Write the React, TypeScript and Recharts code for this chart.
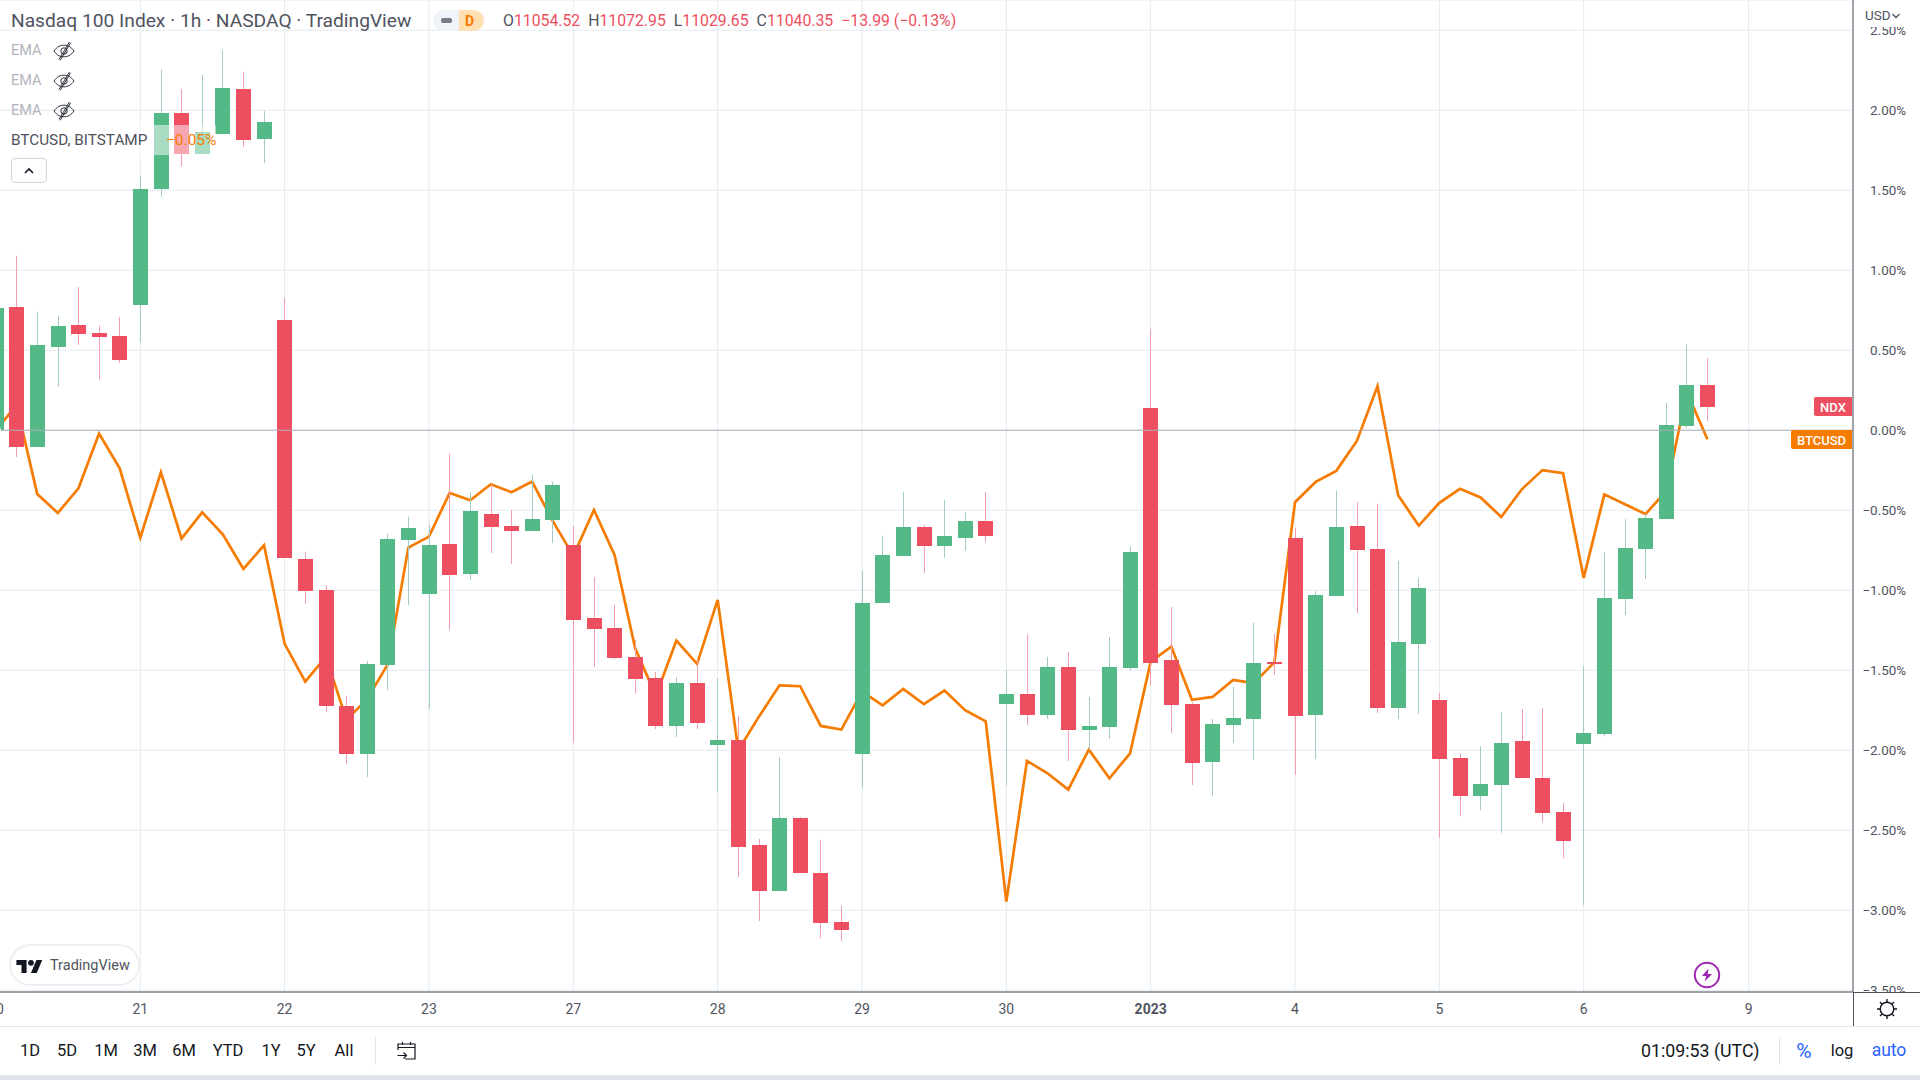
import React from 'react';
import { ComposedChart, Bar, Line, XAxis, YAxis, CartesianGrid, ReferenceLine } from 'recharts';

const firstBar = -7;
const opens = [0.0,.771,-.104,.521,.658,.608,.59, .783,1.508,1.983,1.727,1.852,2.133,1.82, .69,-.804,-.998,-1.723,-2.023,-1.467,-.685, -1.023,-.71,-.898,-.523,-.598,-.629,-.56, -.717,-1.173,-1.235,-1.417,-1.548,-1.848,-1.579, -1.967,-1.935,-2.592,-2.879,-2.423,-2.767,-3.073, -2.023,-1.079,-.785,-.604,-.723,-.673,-.567, -1.71,-1.648,-1.779,-1.479,-1.873,-1.854,-1.485, .14,-1.435,-1.71,-2.073,-1.842,-1.804,-1.448, -.673,-1.779,-1.035,-.598,-.742,-1.735,-1.335, -1.686,-2.049,-2.287,-2.218,-1.943,-2.174,-2.387, -1.961,-1.899,-1.055,-.743,-.556,.027,.281];
const closes = [.765,-.104,.533,.652,.602,.583,.44, 1.508,1.983,1.727,1.865,2.14,1.815,1.927, -.798,-1.004,-1.723,-2.023,-1.46,-.679,-.61, -.717,-.904,-.504,-.604,-.629,-.554,-.342, -1.185,-1.242,-1.423,-1.554,-1.848,-1.579,-1.829, -1.935,-2.604,-2.879,-2.423,-2.767,-3.079,-3.123, -1.079,-.779,-.604,-.723,-.66,-.567,-.66, -1.648,-1.779,-1.479,-1.873,-1.848,-1.479,-.76, -1.454,-1.717,-2.079,-1.835,-1.798,-1.454,-1.46, -1.785,-1.029,-.604,-.748,-1.735,-1.323,-.985, -2.056,-2.287,-2.211,-1.954,-2.174,-2.394,-2.567, -1.892,-1.048,-.736,-.549,.031,.281,.144];
const highs = [.8,1.09,.74,.715,.896,.652,.708, 1.59,2.252,2.133,2.22,2.377,2.24,1.996, .827,-.76,-.967,-1.66,-1.442,-.648,-.54, -.592,-.148,-.385,-.335,-.498,-.279,-.323, -.598,-.917,-1.092,-1.31,-1.51,-1.542,-1.435, -1.55,-1.785,-2.554,-2.042,-2.417,-2.56,-2.973, -.879,-.66,-.385,-.592,-.435,-.51,-.385, -1.498,-1.273,-1.417,-1.385,-1.667,-1.292,-.729, .633,-1.104,-1.7,-1.804,-1.604,-1.204,-1.273, -.61,-1.004,-.379,-.448,-.46,-.817,-.923, -1.642,-2.019,-1.975,-1.763,-1.744,-1.737,-2.331, -1.474,-.762,-.556,-.52,.17,.538,.45];
const lows = [-.01,-.167,-.104,.273,.533,.317,.421, .548,1.46,1.648,1.727,1.852,1.773,1.67, -.798,-1.085,-1.76,-2.085,-2.167,-1.623,-1.092, -1.742,-1.248,-.935,-.767,-.835,-.629,-.704, -1.954,-1.479,-1.429,-1.648,-1.867,-1.917,-1.867, -2.26,-2.792,-3.067,-2.879,-2.767,-3.173,-3.192, -2.235,-1.079,-.785,-.892,-.798,-.754,-.698, -2.217,-1.842,-1.804,-2.067,-1.998,-1.929,-1.504, -1.592,-1.892,-2.217,-2.285,-1.954,-2.06,-1.529, -2.154,-2.054,-1.035,-1.142,-1.767,-1.804,-1.773, -2.549,-2.412,-2.375,-2.516,-2.174,-2.449,-2.673, -2.967,-1.913,-1.155,-.93,-.556,.013,.057];
const btcusd = [0.0,.158,-.398,-.517,-.363,-.021,-.238, -.671,-.263,-.677,-.513,-.65,-.867,-.719, -1.335,-1.571,-1.415,-1.81,-1.681,-1.463,-.733, -.665,-.392,-.4375,-.3375,-.3875,-.321,-.567, -.785,-.498,-.779,-1.363,-1.66,-1.315,-1.46, -1.06,-2.0,-1.79,-1.594,-1.6,-1.848,-1.871, -1.633,-1.719,-1.617,-1.712,-1.627,-1.75,-1.819, -2.946,-2.067,-2.144,-2.246,-1.996,-2.175,-2.019, -1.446,-1.352,-1.685,-1.667,-1.56,-1.581,-1.45, -.45,-.323,-.254,-.067,.275,-.406,-.596, -.454,-.366,-.42,-.542,-.369,-.249,-.269, -.923,-.401,-.463,-.524,-.38,.239,-.056];
const dayTicks = [-7,0,7,14,21,28,35,42,49,56,63,70,78];
const dayLabels = ['20','21','22','23','27','28','29','30','2023','4','5','6','9'];
const percentTicks = [-3.5,-3,-2.5,-2,-1.5,-1,-.5,0,.5,1,1.5,2,2.5];
const rangeButtons = [['1D',30],['5D',67],['1M',106],['3M',145],['6M',184],['YTD',228],['1Y',271],['5Y',306],['All',344]];
const ohlcParts = [['O','11054.52'],['H','11072.95'],['L','11029.65'],['C','11040.35']];
const table = opens.map((open, k) => ({ idx: firstBar + k, open, close: closes[k], high: highs[k], low: lows[k], btc: btcusd[k] }));

const UP = '#53b987', DOWN = '#ed4f60', UPW = '#a3cbca', DOWNW = '#f59fab', ORANGE = '#f57c00', GRID = '#e3ebf1';
const FONT = "Roboto, sans-serif";

function Candle(props: any) {
  const { x, y, width, height, payload } = props;
  const { open, close, high, low } = payload;
  const k = height / (high - low);
  const top = y + (high - Math.max(open, close)) * k;
  const bot = y + (high - Math.min(open, close)) * k;
  const up = close >= open;
  const cx = Math.floor(x + width / 2);
  return (
    <g>
      <rect x={cx} y={y} width={1} height={height} fill={up ? UPW : DOWNW} />
      <rect x={cx - 7} y={Math.round(top)} width={15} height={Math.max(2, Math.round(bot) - Math.round(top))} fill={up ? UP : DOWN} />
    </g>
  );
}

function DayTick(props: any) {
  const { x, y, payload } = props;
  const label = dayLabels[dayTicks.indexOf(payload.value)];
  return (
    <text x={x} y={y} textAnchor="middle" dominantBaseline="central" fontFamily={FONT} fontSize={14} fill="#50535e" fontWeight={label === '2023' ? 700 : 400}>{label}</text>
  );
}

function PercentTick(props: any) {
  const { x, y, payload } = props;
  const v = payload.value;
  return (
    <text x={x} y={y} textAnchor="end" dominantBaseline="central" fontFamily={FONT} fontSize={13.4} fill="#50535e">{(v < 0 ? '\u2212' : '') + Math.abs(v).toFixed(2) + '%'}</text>
  );
}

const T = ({ x, y, c = '#131722', s = 16, w, children, anchor }: any) => (
  <div style={{ position: 'absolute', left: x, top: y, transform: anchor === 'middle' ? 'translate(-50%,-50%)' : 'translateY(-50%)', color: c, fontSize: s, fontWeight: w, fontFamily: FONT, whiteSpace: 'nowrap', lineHeight: 1 }}>{children}</div>
);
const Box = ({ x, y, w, h, bg, style }: any) => <div style={{ position: 'absolute', left: x, top: y, width: w, height: h, background: bg, ...style }} />;

const EyeOff = ({ x, y }: any) => (
  <svg style={{ position: 'absolute', left: x, top: y }} width={22} height={22} viewBox="0 0 22 22" fill="none" stroke="#131722" strokeWidth={0.9}>
    <path d="M1 11c3-4.4 6.5-5.8 10-5.8S18 6.6 21 11c-3 4.4-6.5 5.8-10 5.8S4 15.4 1 11z" />
    <circle cx={11} cy={11} r={3.2} />
    <path d="M16.4 2 6 19.5M17.6 2.8 7.2 20.3" />
  </svg>
);

export default function App() {
  return (
    <div style={{ position: 'absolute', left: 0, top: 0, width: 1920, height: 1080, overflow: 'hidden', background: '#fff' }}>
      <div style={{ position: 'absolute', left: -24, top: 0 }}>
        <ComposedChart width={1944} height={1080} data={table} margin={{ top: 0, right: 0, bottom: 0, left: 0 }}>
          <CartesianGrid stroke={GRID} strokeWidth={1} />
          <XAxis dataKey="idx" type="number" domain={[-7.968, 83.06]} allowDataOverflow ticks={dayTicks} height={88} tickLine={false} tickMargin={11} interval={0} axisLine={{ stroke: '#50535e' }} tick={<DayTick />} />
          <YAxis orientation="right" type="number" domain={[-3.511, 2.689]} allowDataOverflow ticks={percentTicks} width={67} interval={0} tickLine={false} tickMargin={47} axisLine={{ stroke: '#50535e' }} tick={<PercentTick />} />
          <ReferenceLine y={0} stroke="#adaeb6" strokeWidth={1} />
          <Line dataKey="btc" type="linear" stroke={ORANGE} strokeWidth={2.7} dot={false} isAnimationActive={false} zIndex={200} />
          <Bar dataKey={(d: any) => [d.low, d.high]} barSize={15} shape={<Candle />} isAnimationActive={false} />
        </ComposedChart>
      </div>

      {/* top-left legend */}
      <T x={11} y={21} c="#50535e" s={19.2}>Nasdaq 100 Index · 1h · NASDAQ · TradingView</T>
      <Box x={433} y={10} w={26} h={21} bg="#f0f3fa" style={{ borderRadius: '11px 0 0 11px' }} />
      <Box x={459} y={10} w={25} h={21} bg="#ffe0b2" style={{ borderRadius: '0 11px 11px 0' }} />
      <Box x={441} y={18} w={11} h={5} bg="#787b86" style={{ borderRadius: 2 }} />
      <T x={465} y={21} c={ORANGE} s={14} w={700}>D</T>
      <div style={{ position: 'absolute', left: 503, top: 21, transform: 'translateY(-50%)', fontFamily: FONT, fontSize: 15.8, whiteSpace: 'nowrap', color: DOWN, lineHeight: 1 }}>
        {ohlcParts.map(([k, v]) => <span key={k} style={{ marginRight: 8 }}><span style={{ color: '#50535e' }}>{k}</span>{v}</span>)}
        <span>{'\u221213.99 (\u22120.13%)'}</span>
      </div>
      {[51, 81, 111].map((y) => <T key={y} x={11} y={y} c="#b2b5be" s={14.5}>EMA</T>)}
      {[40, 70, 100].map((y) => <EyeOff key={y} x={53} y={y} />)}
      <Box x={0} y={125} w={216} h={30} bg="rgba(255,255,255,0.5)" />
      <T x={11} y={141} c="#50535e" s={15.3}>BTCUSD, BITSTAMP</T>
      <T x={166} y={141} c={ORANGE} s={15.5}>{'\u22120.05%'}</T>
      <div style={{ position: 'absolute', left: 11, top: 158, width: 36, height: 25, border: '1px solid #d1d4dc', borderRadius: 4, background: '#fff', boxSizing: 'border-box' }}>
        <svg width={34} height={23} viewBox="0 0 34 23" fill="none" stroke="#131722" strokeWidth={1.6}><path d="M13 14l4-4 4 4" /></svg>
      </div>

      {/* TradingView badge */}
      <div style={{ position: 'absolute', left: 9, top: 944, width: 131, height: 42, border: '2px solid #eceef2', borderRadius: 21, background: '#fff', boxSizing: 'border-box' }} />
      <svg style={{ position: 'absolute', left: 16, top: 957 }} width={27} height={16} viewBox="0 0 36 22" fill="#131722"><path d="M14 22H7V11H0V4h14v18zM28 22h-8l7.5-18h8L28 22z" /><circle cx={20} cy={8} r={4} /></svg>
      <T x={50} y={966} c="#50535e" s={14.5}>TradingView</T>

      {/* lightning */}
      <svg style={{ position: 'absolute', left: 1693, top: 961 }} width={28} height={28} viewBox="0 0 28 28"><circle cx={14} cy={14} r={12.2} fill="#fff" stroke="#9c27b0" strokeWidth={2} /><path d="M15.5 7.5 9 15h4.2l-1.4 5.5L19 13h-4.4z" fill="#9c27b0" /></svg>

      {/* price tags */}
      <Box x={1814} y={397} w={38} h={19} bg={DOWN} style={{ borderRadius: '2px 0 0 2px' }} />
      <T x={1833} y={407} c="#fff" s={13} anchor="middle" w={500}>NDX</T>
      <Box x={1791} y={430} w={61} h={19} bg={ORANGE} style={{ borderRadius: '2px 0 0 2px' }} />
      <T x={1821.5} y={440} c="#fff" s={13} anchor="middle" w={500}>BTCUSD</T>

      {/* right scale corners */}
      <Box x={1854} y={0} w={66} h={27} bg="#fff" />
      <T x={1865} y={16} c="#50535e" s={13.5}>USD</T>
      <svg style={{ position: 'absolute', left: 1891, top: 12 }} width={10} height={8} viewBox="0 0 10 8" fill="none" stroke="#50535e" strokeWidth={1.3}><path d="M1.5 2l3.5 3.5L8.5 2" /></svg>
      <Box x={1854} y={993} w={66} h={33} bg="#fff" />
      <Box x={1853} y={992} w={67} h={1} bg="#50535e" />
      <Box x={1853} y={992} w={1} h={34} bg="#50535e" />
      <svg style={{ position: 'absolute', left: 1874, top: 996 }} width={26} height={26} viewBox="0 0 26 26" fill="none" stroke="#131722" strokeWidth={1.4}>
        <circle cx={13} cy={13} r={6.8} />
        <path d="M13 3v3M13 20v3M3 13h3M20 13h3M6 6l2 2M18 18l2 2M20 6l-2 2M8 18l-2 2" />
      </svg>

      {/* bottom toolbar */}
      <Box x={0} y={1026} w={1920} h={1} bg="#e0e3eb" />
      <Box x={0} y={1027} w={1920} h={48} bg="#fff" />
      <Box x={0} y={1075} w={1920} h={5} bg="#e0e3eb" />
      {rangeButtons.map(([t, x]) => <T key={t as string} x={x} y={1051} s={16.5} anchor="middle">{t}</T>)}
      <Box x={375} y={1037} w={1} h={28} bg="#e0e3eb" />
      <svg style={{ position: 'absolute', left: 395, top: 1039 }} width={24} height={24} viewBox="0 0 24 24" fill="none" stroke="#131722" strokeWidth={1.2}>
        <path d="M3 11V5h17v15H10M3 8.5h17M7.5 3v3M15.5 3v3M2.5 16.5h9M8.5 13.5l3 3-3 3" />
      </svg>
      <T x={1641} y={1051} s={17.8}>01:09:53 (UTC)</T>
      <Box x={1779} y={1037} w={1} h={28} bg="#e0e3eb" />
      <T x={1804} y={1051} c="#2962ff" s={21} anchor="middle">%</T>
      <T x={1842} y={1051} s={16.5} anchor="middle">log</T>
      <T x={1889} y={1051} c="#2962ff" s={17.5} anchor="middle">auto</T>
    </div>
  );
}
